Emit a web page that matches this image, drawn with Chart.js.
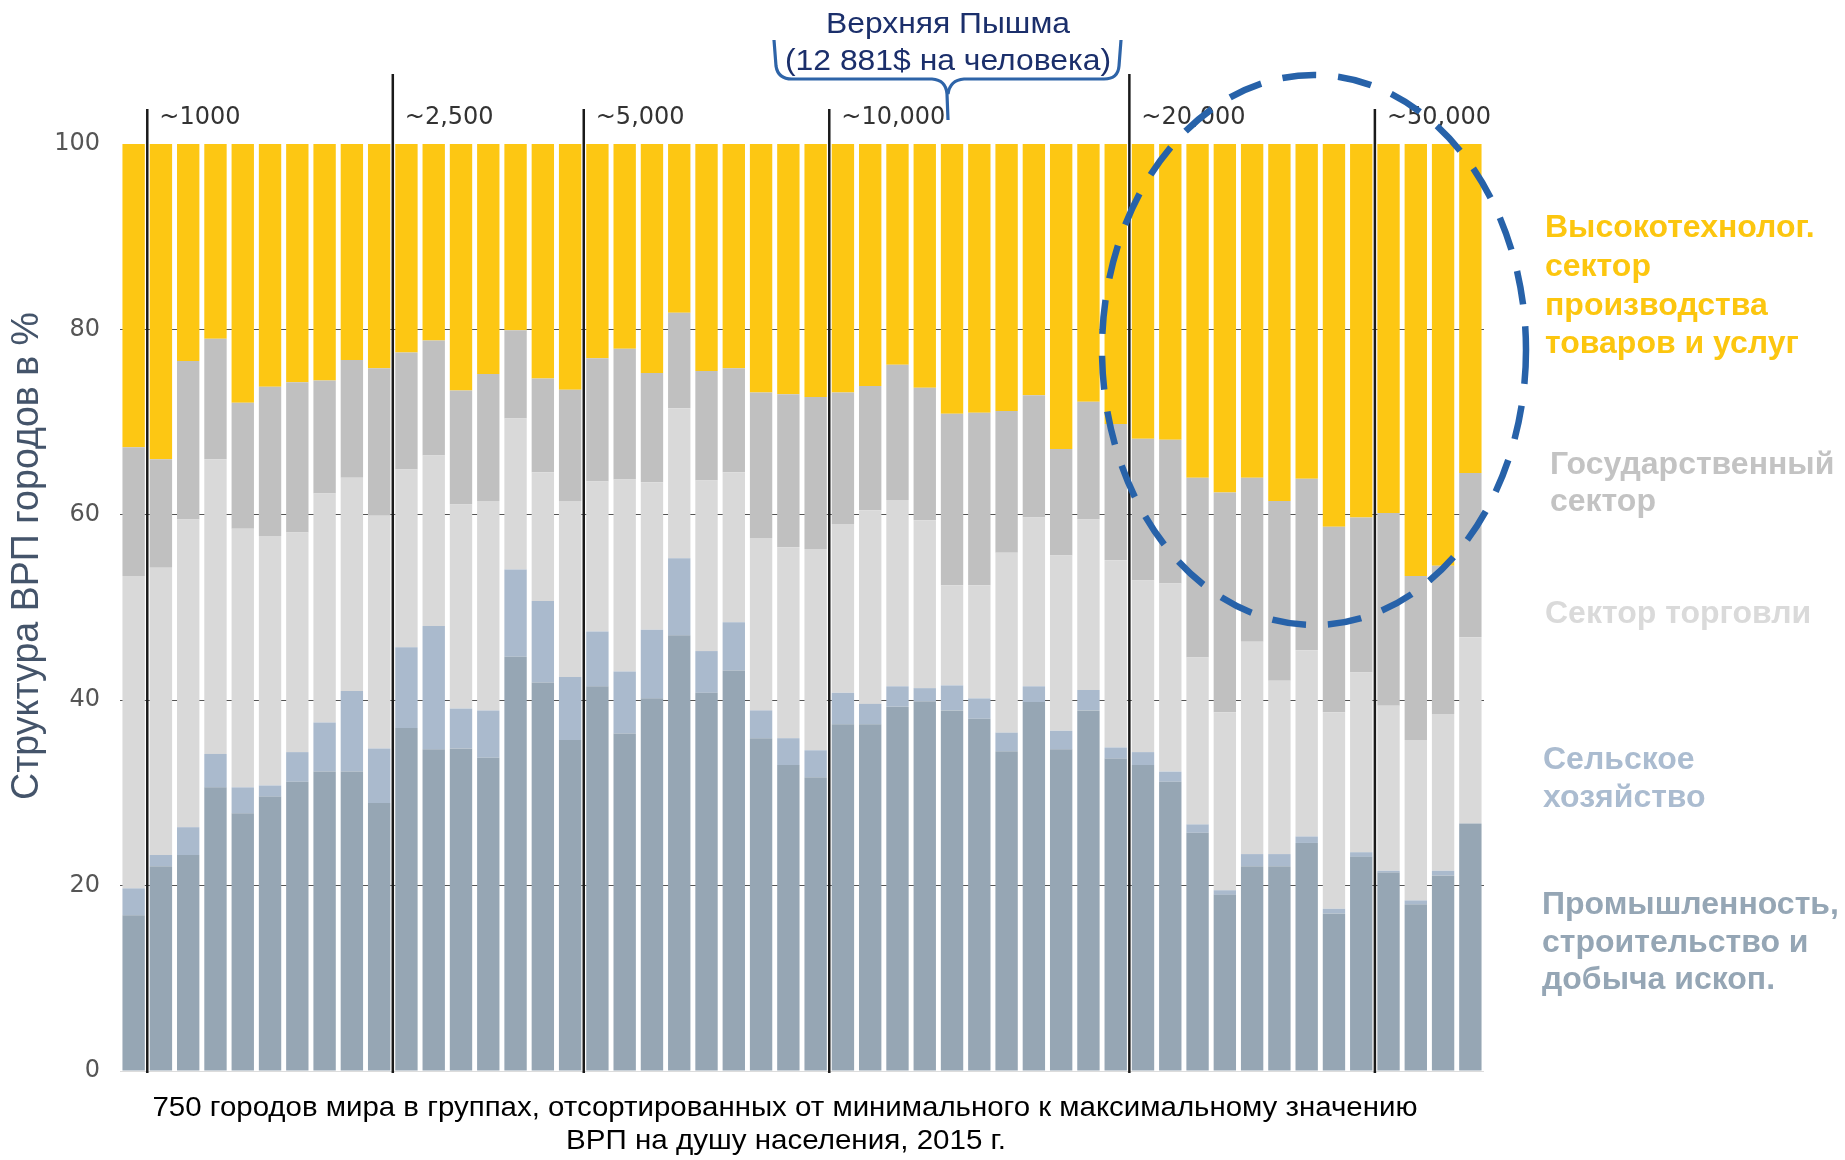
<!DOCTYPE html>
<html>
<head>
<meta charset="utf-8">
<script src="https://cdn.jsdelivr.net/npm/chart.js@4.4.1/dist/chart.umd.min.js"></script>
<style>
  body { margin: 0; background: #fff; }
  #wrap { width: 1845px; height: 1160px; position: relative; }
</style>
</head>
<body>
<div id="wrap"><canvas id="vrpChart" width="1845" height="1160"></canvas></div>
<script>
// доли секторов в ВРП, % (50 групп городов)
const industry = [16.8,22.1,23.3,30.6,27.8,29.6,31.2,32.3,32.3,28.9,
  37.0,34.7,34.8,33.8,44.7,41.9,35.7,
  41.5,36.4,40.2,47.0,40.8,43.2,35.9,33.0,31.7,
  37.4,37.4,39.3,39.9,38.9,38.0,34.5,39.8,34.7,38.9,33.7,
  33.0,31.2,25.7,19.0,22.1,22.1,24.6,17.0,23.1,
  21.4,18.0,21.1,26.7];
const agri = [2.9,1.2,3.0,3.6,2.8,1.2,3.2,5.3,8.7,5.9,
  8.7,13.3,4.3,5.1,9.4,8.8,6.8,
  5.9,6.7,7.4,8.3,4.5,5.2,3.0,2.9,2.9,
  3.4,2.2,2.2,1.4,2.7,2.2,2.0,1.7,2.0,2.2,1.2,
  1.4,1.1,0.9,0.5,1.3,1.3,0.7,0.5,0.5,
  0.2,0.4,0.5,0];
const trade = [33.7,31.0,33.2,31.8,27.9,26.9,23.7,24.7,23.0,25.1,
  19.2,18.4,22.0,22.6,16.3,13.9,19.0,
  16.2,20.7,15.9,16.2,18.4,16.2,18.6,20.6,21.7,
  18.2,20.9,20.1,18.1,10.8,12.2,19.4,18.2,18.9,18.4,20.2,
  18.5,20.3,18.0,19.2,22.9,18.7,20.1,21.2,19.4,
  17.8,17.3,16.9,20.1];
const gov = [13.9,11.7,17.1,13.0,13.6,16.1,16.2,12.2,12.7,15.9,
  12.6,12.4,12.3,13.7,9.5,10.1,12.0,
  13.3,14.1,11.8,10.3,11.8,11.2,15.7,16.5,16.4,
  14.2,13.4,14.6,14.3,18.5,18.6,15.3,13.2,11.5,12.7,14.7,
  15.3,15.5,19.4,23.7,17.7,19.4,18.5,20.0,16.7,
  20.8,17.7,16.0,17.7];
const hightech = [32.7,34.0,23.4,21.0,27.9,26.2,25.7,25.5,23.3,24.2,
  22.5,21.2,26.6,24.8,20.1,25.3,26.5,
  23.1,22.1,24.7,18.2,24.5,24.2,26.8,27.0,27.3,
  26.8,26.1,23.8,26.3,29.1,29.0,28.8,27.1,32.9,27.8,30.2,
  31.8,31.9,36.0,37.6,36.0,38.5,36.1,41.3,40.3,
  39.8,46.6,45.5,35.5];

const cities = industry.map((v, i) => String(i + 1));
const yTicks = [0, 20, 40, 60, 80, 100];

// границы групп по ВРП на душу (линия после бара с этим индексом)
const groupLabels = ['~1000', '~2,500', '~5,000', '~10,000', '~20,000', '~50,000'];
const groupAfter = [0, 9, 16, 25, 36, 45];
const groupTall = [false, true, false, false, true, false];

const seriesNames = ['Промышленность, строительство и добыча ископ.', 'Сельское хозяйство',
  'Сектор торговли', 'Государственный сектор', 'Высокотехнолог. сектор производства товаров и услуг'];
const seriesColors = ['#96a6b4', '#aabacd', '#d9d9d9', '#c0c0c0', '#fdc713'];

// подписи справа
const sideLabels = [
  { lines: ['Высокотехнолог.', 'сектор', 'производства', 'товаров и услуг'], y: [228, 267, 306, 344], x: 1545, color: '#fcc60f' },
  { lines: ['Государственный', 'сектор'], y: [465, 502], x: 1550, color: '#c3c3c3' },
  { lines: ['Сектор торговли'], y: [614], x: 1545, color: '#dadada' },
  { lines: ['Сельское', 'хозяйство'], y: [760, 798], x: 1543, color: '#abbcd0' },
  { lines: ['Промышленность,', 'строительство и', 'добыча ископ.'], y: [905, 943, 980], x: 1542, color: '#95a6b5' }
];

function fitText(ctx, text, x, y, width) {
  const w = ctx.measureText(text).width;
  ctx.save();
  ctx.translate(x, y);
  ctx.scale(width / w, 1);
  ctx.fillText(text, 0, 0);
  ctx.restore();
}

const decorPlugin = {
  id: 'decor',
  afterDatasetsDraw(chart) {
    const ctx = chart.ctx;
    const xs = chart.scales.x;
    const bottom = chart.chartArea.bottom;

    // вертикальные линии групп и подписи
    ctx.save();
    groupAfter.forEach((idx, k) => {
      const xl = (xs.getPixelForValue(idx) + xs.getPixelForValue(idx + 1)) / 2;
      const top = groupTall[k] ? 74 : 109;
      ctx.strokeStyle = '#1a1a1a';
      ctx.lineWidth = 2.5;
      ctx.beginPath();
      ctx.moveTo(xl, top);
      ctx.lineTo(xl, bottom + 2);
      ctx.stroke();
      ctx.fillStyle = '#333';
      ctx.font = '24px "DejaVu Sans"';
      ctx.textAlign = 'left';
      ctx.textBaseline = 'middle';
      ctx.fillText(groupLabels[k], xl + 12, 118);
    });
    ctx.restore();

    // пунктирный эллипс
    ctx.save();
    ctx.strokeStyle = '#2762a9';
    ctx.lineWidth = 6.5;
    ctx.setLineDash([34, 22]);
    ctx.beginPath();
    ctx.ellipse(1314, 350, 212, 275, 0, 0, Math.PI * 2);
    ctx.stroke();
    ctx.restore();

    // фигурная скобка
    ctx.save();
    ctx.strokeStyle = '#2e64a8';
    ctx.lineWidth = 3.2;
    ctx.lineJoin = 'round';
    ctx.beginPath();
    ctx.moveTo(774, 40);
    ctx.lineTo(776, 66);
    ctx.quadraticCurveTo(778, 79, 792, 79);
    ctx.lineTo(932, 79);
    ctx.quadraticCurveTo(946, 80, 947, 94);
    ctx.lineTo(948, 120);
    ctx.moveTo(948, 94);
    ctx.quadraticCurveTo(950, 80, 964, 79);
    ctx.lineTo(1104, 79);
    ctx.quadraticCurveTo(1118, 79, 1119, 66);
    ctx.lineTo(1121, 40);
    ctx.stroke();
    ctx.restore();
  },
  afterDraw(chart) {
    const ctx = chart.ctx;
    ctx.save();
    ctx.textAlign = 'center';
    ctx.textBaseline = 'middle';

    // аннотация Верхняя Пышма
    ctx.fillStyle = '#1b2f6b';
    ctx.font = '30px "Liberation Sans", Arial, sans-serif';
    fitText(ctx, 'Верхняя Пышма', 948, 25, 244);
    fitText(ctx, '(12 881$ на человека)', 948, 62, 326);

    // подпись оси Y
    ctx.fillStyle = '#44546a';
    ctx.font = '38px "Liberation Sans Narrow", "Arial Narrow", "Liberation Sans", sans-serif';
    ctx.save();
    ctx.translate(28, 556);
    ctx.rotate(-Math.PI / 2);
    fitText(ctx, 'Структура ВРП городов в %', 0, 0, 488);
    ctx.restore();

    // подпись снизу
    ctx.fillStyle = '#000';
    ctx.font = '28px "Liberation Sans Narrow", "Arial Narrow", "Liberation Sans", sans-serif';
    fitText(ctx, '750 городов мира в группах, отсортированных от минимального к максимальному значению', 785, 1108, 1265);
    fitText(ctx, 'ВРП на душу населения, 2015 г.', 786, 1141, 440);

    // подписи секторов справа
    ctx.textAlign = 'left';
    ctx.font = 'bold 32px "Liberation Sans", Arial, sans-serif';
    sideLabels.forEach(s => {
      ctx.fillStyle = s.color;
      s.lines.forEach((t, i) => ctx.fillText(t, s.x, s.y[i]));
    });
    ctx.restore();
  }
};

const series = [industry, agri, trade, gov, hightech];

new Chart(document.getElementById('vrpChart'), {
  type: 'bar',
  data: {
    labels: cities,
    datasets: series.map((d, i) => ({
      label: seriesNames[i],
      data: d,
      backgroundColor: seriesColors[i],
      borderWidth: 0,
      barPercentage: 0.82,
      categoryPercentage: 1.0
    }))
  },
  options: {
    responsive: false,
    animation: false,
    devicePixelRatio: 1,
    layout: { padding: { left: 0, top: 144, right: 361, bottom: 89 } },
    plugins: { legend: { display: false }, tooltip: { enabled: false } },
    scales: {
      x: { stacked: true, display: false },
      y: {
        stacked: true,
        min: 0,
        max: 100,
        afterFit(scale) { scale.width = 120; },
        afterBuildTicks(scale) { scale.ticks = yTicks.map(v => ({ value: v })); },
        border: { display: false },
        grid: {
          drawTicks: false,
          lineWidth: 1,
          color: c => (c.tick.value === 0 ? '#dcdcdc' : c.tick.value === 100 ? 'rgba(0,0,0,0)' : '#555')
        },
        ticks: {
          padding: 20,
          color: '#555',
          font: { family: 'DejaVu Sans', size: 24 }
        }
      }
    }
  },
  plugins: [decorPlugin]
});
</script>
</body>
</html>
